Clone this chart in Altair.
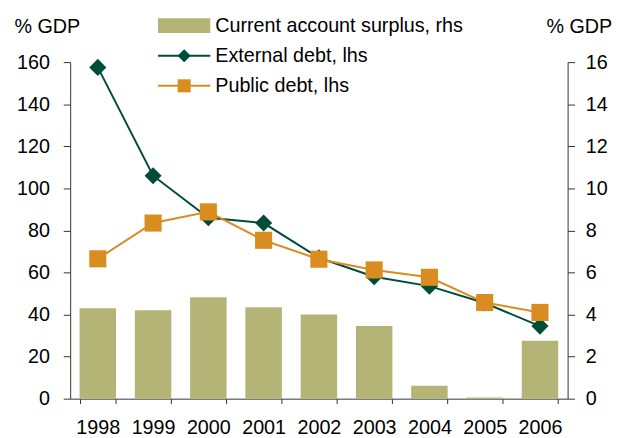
import altair as alt
import pandas as pd

years = ["1998", "1999", "2000", "2001", "2002", "2003", "2004", "2005", "2006"]
current_account = [4.3, 4.2, 4.82, 4.35, 4.0, 3.45, 0.62, 0.06, 2.75]
external_debt = [157.5, 106, 86, 83.5, 67, 58, 53.5, 45.5, 34.5]
public_debt = [66.5, 83.5, 88.8, 75.3, 66.3, 61.2, 57.7, 45.7, 41]

series_names = ["Current account surplus, rhs", "External debt, lhs", "Public debt, lhs"]
series_colors = ["#b4b476", "#004d3a", "#d98c20"]
left_ticks = [0, 20, 40, 60, 80, 100, 120, 140, 160]
right_ticks = [0, 2, 4, 6, 8, 10, 12, 14, 16]

FONT = "Liberation Sans"
FS = 20

bars_df = pd.DataFrame({"year": years, "value": current_account, "series": series_names[0]})
lines_df = pd.DataFrame({
    "year": years + years,
    "value": external_debt + public_debt,
    "series": [series_names[1]] * len(years) + [series_names[2]] * len(years),
})
legend_df = pd.DataFrame({"series": series_names})

color_scale = alt.Scale(domain=series_names, range=series_colors)

x_enc = alt.X(
    "year:N",
    scale=alt.Scale(domain=years, paddingInner=0.34, paddingOuter=0.17),
    axis=alt.Axis(
        title=None, labelAngle=0, tickBand="extent", tickSize=5, labelPadding=14,
        labelFont=FONT, labelFontSize=FS, labelColor="black",
        domainColor="#333", tickColor="#333", grid=False,
    ),
)

axis_common = dict(
    grid=False, tickSize=7, labelFont=FONT, labelFontSize=FS, labelColor="black",
    domainColor="#333", tickColor="#333", title="% GDP", titleAngle=0,
    titleFont=FONT, titleFontSize=FS, titleFontWeight="normal", titleColor="black",
    titleAlign="left", titleBaseline="alphabetic", titleY=-30,
)

bars = alt.Chart(bars_df).mark_bar().encode(
    x=x_enc,
    y=alt.Y("value:Q", scale=alt.Scale(domain=[0, 16], nice=False),
            axis=alt.Axis(orient="right", values=right_ticks, labelPadding=11,
                          titleX=-22, **axis_common)),
    color=alt.Color("series:N", scale=color_scale, legend=None),
)

y_left = alt.Y("value:Q", scale=alt.Scale(domain=[0, 160], nice=False),
               axis=alt.Axis(orient="left", values=left_ticks, labelPadding=14,
                             titleX=-57, **axis_common))

lines = alt.Chart(lines_df).mark_line(strokeWidth=2).encode(
    x=x_enc, y=y_left,
    color=alt.Color("series:N", scale=color_scale, legend=None),
)

pts_ext = alt.Chart(lines_df).transform_filter(
    alt.datum.series == series_names[1]
).mark_point(shape="diamond", filled=True, size=300, opacity=1).encode(
    x=x_enc, y=alt.Y("value:Q"),
    color=alt.Color("series:N", scale=color_scale, legend=None),
)

pts_pub = alt.Chart(lines_df).transform_filter(
    alt.datum.series == series_names[2]
).mark_point(shape="square", filled=True, size=300, opacity=1).encode(
    x=x_enc, y=alt.Y("value:Q"),
    color=alt.Color("series:N", scale=color_scale, legend=None),
)

# legend (rows placed through a point scale on the series names)
leg_y = alt.Y("series:N", scale=alt.Scale(type="point", domain=series_names,
                                          range=[-37, 24], padding=0), axis=None)

leg_box = alt.Chart(legend_df).transform_filter(
    alt.datum.series == series_names[0]
).mark_rule(strokeCap="butt", strokeWidth=15, opacity=1).encode(
    x=alt.value(89), x2=alt.value(142), y=leg_y,
    color=alt.Color("series:N", scale=color_scale, legend=None),
)

leg_lines = alt.Chart(legend_df).transform_filter(
    alt.datum.series != series_names[0]
).mark_rule(strokeCap="butt", strokeWidth=2, opacity=1).encode(
    x=alt.value(89), x2=alt.value(142), y=leg_y,
    color=alt.Color("series:N", scale=color_scale, legend=None),
)

leg_marks = alt.Chart(legend_df).transform_filter(
    alt.datum.series != series_names[0]
).mark_point(filled=True, opacity=1, size=175).encode(
    x=alt.value(115.5), y=leg_y,
    color=alt.Color("series:N", scale=color_scale, legend=None),
    shape=alt.Shape("series:N", scale=alt.Scale(domain=series_names[1:], range=["diamond", "square"]),
                    legend=None),
)

leg_text = alt.Chart(legend_df).mark_text(
    align="left", baseline="middle", font=FONT, fontSize=FS, color="black"
).encode(
    x=alt.value(147), y=leg_y, text="series:N",
)

chart = alt.layer(
    bars, alt.layer(lines, pts_ext, pts_pub),
    alt.layer(leg_box, leg_lines, leg_marks, leg_text)
).resolve_scale(y="independent").properties(
    width=504, height=341,
    padding={"left": 63, "top": 52, "right": 46, "bottom": 37},
    autosize=alt.AutoSizeParams(type="none"),
    background="white",
).configure_view(stroke=None)

chart.save("out.html", embed_options={"renderer": "svg", "actions": False})
